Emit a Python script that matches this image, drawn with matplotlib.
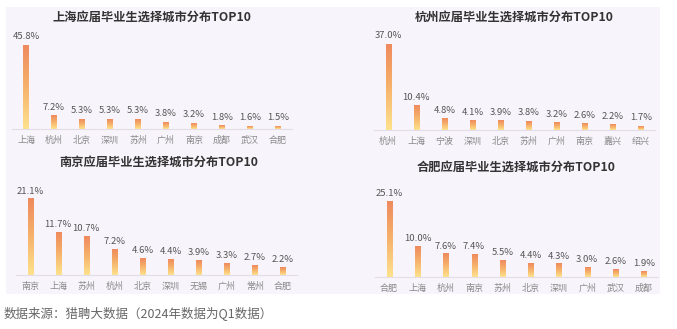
import numpy as np
import matplotlib.pyplot as plt
from matplotlib.colors import LinearSegmentedColormap
from matplotlib.patches import Rectangle

plt.rcParams['font.family'] = ['Noto Sans CJK SC', 'DejaVu Sans']

# data
sh_titles = '上海应届毕业生选择城市分布TOP10'
sh_cities = ['上海', '杭州', '北京', '深圳', '苏州', '广州', '南京', '成都', '武汉', '合肥']
sh_values = [45.8, 7.2, 5.3, 5.3, 5.3, 3.8, 3.2, 1.8, 1.6, 1.5]

hz_titles = '杭州应届毕业生选择城市分布TOP10'
hz_cities = ['杭州', '上海', '宁波', '深圳', '北京', '苏州', '广州', '南京', '嘉兴', '绍兴']
hz_values = [37.0, 10.4, 4.8, 4.1, 3.9, 3.8, 3.2, 2.6, 2.2, 1.7]

nj_titles = '南京应届毕业生选择城市分布TOP10'
nj_cities = ['南京', '上海', '苏州', '杭州', '北京', '深圳', '无锡', '广州', '常州', '合肥']
nj_values = [21.1, 11.7, 10.7, 7.2, 4.6, 4.4, 3.9, 3.3, 2.7, 2.2]

hf_titles = '合肥应届毕业生选择城市分布TOP10'
hf_cities = ['合肥', '上海', '杭州', '南京', '苏州', '北京', '深圳', '广州', '武汉', '成都']
hf_values = [25.1, 10.0, 7.6, 7.4, 5.5, 4.4, 4.3, 3.0, 2.6, 1.9]

source = '数据来源：猎聘大数据（2024年数据为Q1数据）'

W, H = 677, 329
fig = plt.figure(figsize=(W / 100, H / 100), dpi=100)
fig.patch.set_facecolor('white')

# lavender panel
fig.patches.append(Rectangle((6 / W, 1 - 294 / H), 654 / W, 287 / H,
                             transform=fig.transFigure, facecolor='#f8f4fc',
                             edgecolor='none', zorder=-5))

cmap = LinearSegmentedColormap.from_list('bar', ['#fee28c', '#f6b26b', '#ef8a5e'])
grad = np.linspace(0, 1, 100).reshape(-1, 1)


def draw_panel(left, right, base, top_px, maxv, title, tx, ty, cities, values):
    # axes geometry in pixels: baseline at y=base, max bar top at y=top_px
    scale = (base - top_px) / maxv
    ymax = maxv * 1.3
    height = ymax * scale
    ax = fig.add_axes([left / W, 1 - base / H, (right - left) / W, height / H])
    ax.set_facecolor('none')
    w = 0.18
    for i, v in enumerate(values):
        ax.imshow(grad, extent=(i - w / 2, i + w / 2, 0, v), origin='lower',
                  cmap=cmap, aspect='auto', zorder=2)
        ax.text(i, v + ymax * 0.035, f'{v:.1f}%', ha='center', va='bottom',
                fontsize=6.8, color='#555555')
    ax.set_xlim(-0.5, len(cities) - 0.5)
    ax.set_ylim(0, ymax)
    for s in ['top', 'right', 'left']:
        ax.spines[s].set_visible(False)
    ax.spines['bottom'].set_color('#e2dde8')
    ax.spines['bottom'].set_linewidth(0.8)
    ax.set_yticks([])
    ax.set_xticks(range(len(cities)))
    ax.set_xticklabels(cities, fontsize=6.5, color='#888888')
    ax.tick_params(axis='x', length=0, pad=5)
    fig.text(tx / W, 1 - ty / H, title, ha='center', va='center',
             fontsize=8.8, fontweight='bold', color='#333333')


draw_panel(12, 292, 129, 45, max(sh_values), sh_titles, 152, 17, sh_cities, sh_values)
draw_panel(374, 655, 130, 44, max(hz_values), hz_titles, 514, 17, hz_cities, hz_values)
draw_panel(16, 297, 275, 199, max(nj_values), nj_titles, 159, 162, nj_cities, nj_values)
draw_panel(375, 658, 277, 201, max(hf_values), hf_titles, 516, 167, hf_cities, hf_values)

fig.text(4 / W, 1 - 313 / H, source, ha='left', va='center', fontsize=9, color='#666666')

fig.savefig('out.png', dpi=100)
